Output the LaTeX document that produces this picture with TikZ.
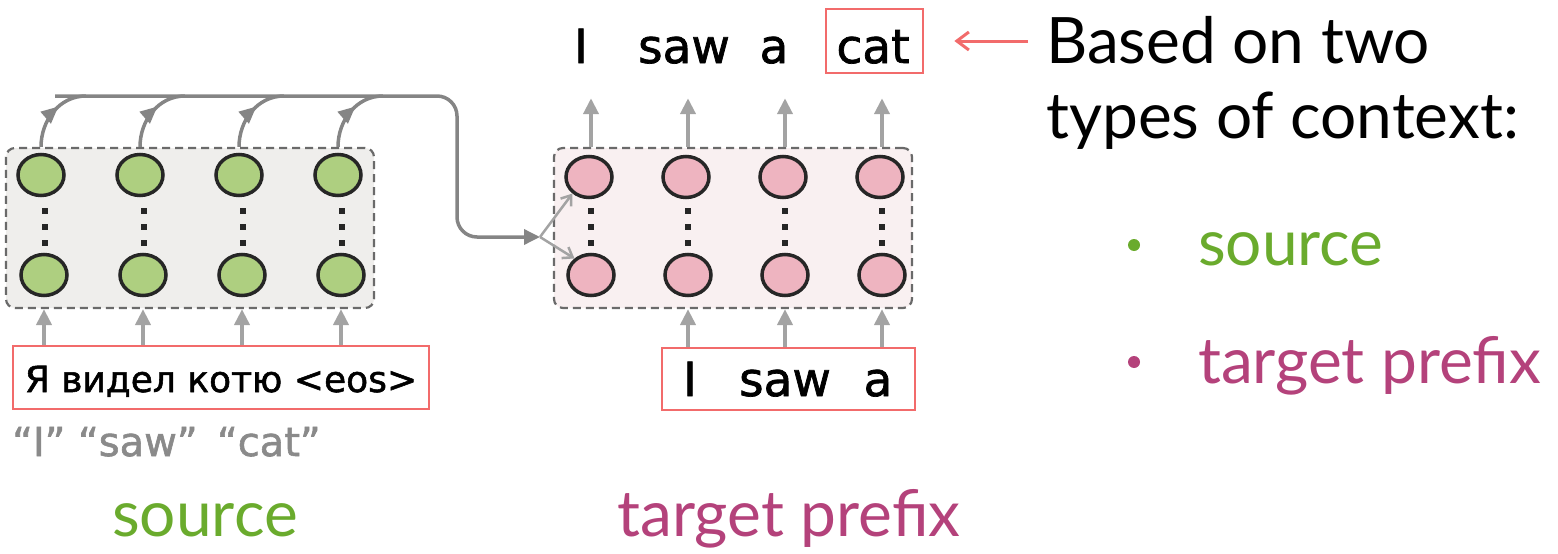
\documentclass[tikz,border=0pt]{standalone}
\usepackage{fontspec}
\setmainfont{Lato}
\newfontfamily\comic[FakeBold=1.5]{DejaVu Sans}
\usetikzlibrary{arrows.meta,calc,shapes.geometric,decorations.markings}
\definecolor{srcgreen}{HTML}{6AAB2D}
\definecolor{tgtpurple}{HTML}{B4427B}
\definecolor{gfill}{HTML}{AECF80}
\definecolor{pfill}{HTML}{EEB4C0}
\definecolor{gboxfill}{HTML}{EFEEEC}
\definecolor{pboxfill}{HTML}{F9F0F1}
\definecolor{redbox}{HTML}{F26B6B}
\definecolor{arrgray}{HTML}{A3A3A3}
\definecolor{busgray}{HTML}{858585}
\definecolor{lblgray}{HTML}{8A8A8A}
\definecolor{dashgray}{HTML}{6A6A6A}
\begin{document}
\begin{tikzpicture}[x=1pt,y=-1pt,
  layerbox/.style={draw=dashgray,line width=2.2pt,dash pattern=on 8pt off 5pt,rounded corners=9pt,inner sep=0pt},
  gcirc/.style={ellipse,draw=black!85,line width=3.5pt,fill=gfill,minimum width=46pt,minimum height=41pt,inner sep=0pt},
  pcirc/.style={gcirc,fill=pfill},
  uparr/.style={draw=arrgray,line width=4.5pt,-{Triangle[length=16pt,width=15pt]}},
  redframe/.style={draw=redbox,line width=2.8pt,inner sep=0pt},
  word/.style={font=\comic\fontsize{47}{50}\selectfont,anchor=base,inner sep=3pt},
  inword/.style={font=\comic\fontsize{36}{40}\selectfont,anchor=base,inner sep=0pt},
  bigtxt/.style={font=\fontsize{64}{76}\selectfont,inner sep=0pt},
  busline/.style={draw=busgray,line width=3.5pt},
  curvarr/.style={busline,postaction={decorate},decoration={markings,mark=at position 0.6 with {\arrow{Triangle[length=17pt,width=15pt]}}}},
  thinarr/.style={draw=arrgray,line width=2.5pt,-{Straight Barb[length=9pt,width=13pt]}}
]
\useasboundingbox (0,0) rectangle (1558,554);

% layer boxes
\node[layerbox,fill=gboxfill,minimum width=368pt,minimum height=160pt] (gbox) at (190,228) {};
\node[layerbox,fill=pboxfill,minimum width=358pt,minimum height=160pt] (pbox) at (733,228) {};

% green circles
\foreach \i/\xt/\xb in {1/41/44,2/140/143,3/239/242,4/338/341}{
  \node[gcirc] (s\i t) at (\xt,175) {};
  \node[gcirc] (s\i b) at (\xb,275) {};
  \foreach \yy in {211,227,243}{\fill[black!85] (\xb+1-3,\yy-3) rectangle (\xb+1+3,\yy+3);}
}
% pink circles
\foreach \i/\xt/\xb in {1/589/591,2/686/688,3/783/785,4/880/882}{
  \node[pcirc] (p\i t) at (\xt,177) {};
  \node[pcirc] (p\i b) at (\xb,275) {};
  \foreach \yy in {211,227,243}{\fill[black!85] (\xb-3,\yy-3) rectangle (\xb+3,\yy+3);}
}

% source input
\node[redframe,minimum width=416pt,minimum height=63pt] (srcbox) at (221,377.5) {};
\node[inword,anchor=base] (srctext) at (221,392) {Я видел котю <eos>};
\node[font=\comic\fontsize{40}{44}\selectfont,text=lblgray,anchor=base west,inner sep=0pt] (gloss) at (12,456) {“I” “saw” \,“cat”};

% target input
\node[redframe,minimum width=253pt,minimum height=62pt] (tgtbox) at (788.5,379) {};
\node[word] (ti1) at (690,396) {I};
\node[word] (ti2) at (785,396) {saw};
\node[word] (ti3) at (878,396) {a};

% output words
\node[word] (w1) at (581,63) {I};
\node[word] (w2) at (684,63) {saw};
\node[word] (w3) at (774,63) {a};
\node[word] (w4) at (873,63) {cat};
\node[redframe,minimum width=97pt,minimum height=64pt] (catbox) at (874.5,41) {};

% arrows into source layer
\foreach \i in {1,...,4}{\draw[uparr] (srcbox.north -| s\i b) -- (gbox.south -| s\i b);}
% arrows into target layer
\foreach \i in {2,...,4}{\draw[uparr] (tgtbox.north -| p\i b) -- (pbox.south -| p\i b);}
% arrows out of target layer
\foreach \i in {1,...,4}{\draw[uparr,shorten >=32pt] (pbox.north -| p\i b) -- (p\i b |- w1.south);}

% source bus
\coordinate (bus) at (55,96);
\coordinate (merge) at (540,237);
\foreach \i in {1,...,4}{
  \draw[curvarr] (gbox.north -| s\i t) to[out=90,in=180] ($(s\i t |- bus)+(45,0)$);
}
\draw[busline,rounded corners=20pt,-{Triangle[length=16pt,width=15pt]}] (bus) -- (457,96) -- (457,237) -- (merge);
\draw[thinarr] (merge) -- (p1t.225);
\draw[thinarr] (merge) -- (p1b.135);

% right text
\node[bigtxt,anchor=base west] (based) at (1046,63) {Based on two};
\node[bigtxt,anchor=base west] (types) at (1046,138) {types of context:};
\draw[redbox,line width=3pt,-{Straight Barb[length=12pt,width=18pt]},shorten >=30pt] (based.west |- catbox.east) ++(-18,0) coordinate (rstart) -- (catbox.east);
\fill[srcgreen] (1134,245) circle (6pt);
\node[bigtxt,text=srcgreen,anchor=base west] (bsrc) at (1198,265) {source};
\fill[tgtpurple] (1134,362) circle (6pt);
\node[bigtxt,text=tgtpurple,anchor=base west] (btgt) at (1198,383) {target prefix};

% bottom labels
\node[bigtxt,text=srcgreen,anchor=base] (lsrc) at (205,536) {source};
\node[bigtxt,text=tgtpurple,anchor=base] (ltgt) at (789,536) {target prefix};
\end{tikzpicture}
\end{document}
